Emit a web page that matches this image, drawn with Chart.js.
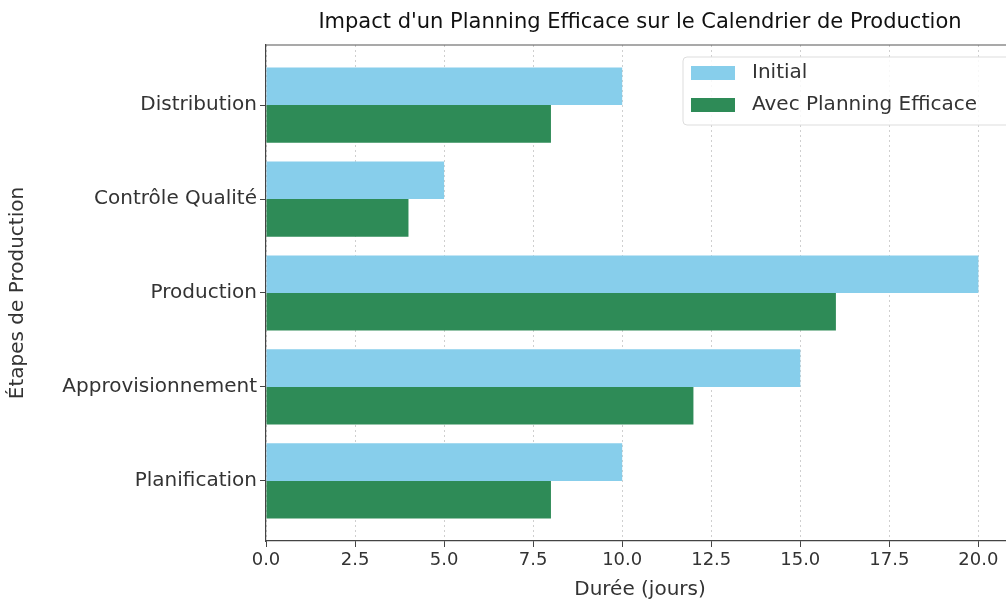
<!DOCTYPE html>
<html>
<head>
<meta charset="utf-8">
<script src="https://cdn.jsdelivr.net/npm/chart.js@4"></script>
<style>
  html, body { margin: 0; padding: 0; background: #fff; overflow: hidden; }
  #wrap { width: 1026px; height: 603px; position: relative; }
</style>
</head>
<body>
<div id="wrap"><canvas id="myChart"></canvas></div>
<script>
// bottom to top, as on the y axis
const etapes = ["Planification", "Approvisionnement", "Production", "Contrôle Qualité", "Distribution"];
const initial = [10, 15, 20, 5, 10];
const efficace = [8, 12, 16, 4, 8];
const xTicks = [0, 2.5, 5, 7.5, 10, 12.5, 15, 17.5, 20];
const titre = "Impact d'un Planning Efficace sur le Calendrier de Production";

const FONT = "'DejaVu Sans', sans-serif";
const ctx = document.getElementById("myChart");

function toPoints(values) {
  return values.map((v, i) => ({ x: v, y: i }));
}

// title centred on the plot, frame, and legend box inside the plot (top right)
const framePlugin = {
  id: "frame",
  afterDraw(chart) {
    const c = chart.ctx;
    const a = chart.chartArea;
    c.save();
    c.fillStyle = "#111";
    c.font = "21px " + FONT;
    c.textAlign = "center";
    c.textBaseline = "middle";
    c.fillText(titre, (a.left + a.right) / 2, 23);

    c.strokeStyle = "#555";
    c.lineWidth = 1.2;
    c.beginPath();
    c.moveTo(a.left, a.top);
    c.lineTo(a.right, a.top);
    c.lineTo(a.right, a.bottom);
    c.stroke();

    // legend
    const x0 = 683, y0 = 57, w = 330, h = 68;
    c.fillStyle = "rgba(255,255,255,0.85)";
    c.strokeStyle = "#ddd";
    c.lineWidth = 1;
    c.beginPath();
    c.roundRect(x0, y0, w, h, 4);
    c.fill();
    c.stroke();
    c.font = "20px " + FONT;
    c.textAlign = "left";
    chart.data.datasets.forEach((ds, i) => {
      const y = y0 + 16 + i * 32;
      c.fillStyle = ds.backgroundColor;
      c.fillRect(x0 + 8, y - 7, 44, 14);
      c.fillStyle = "#333";
      c.fillText(ds.label, x0 + 69, y);
    });
    c.restore();
  },
};

new Chart(ctx, {
  type: "bar",
  data: {
    datasets: [
      {
        label: "Initial",
        data: toPoints(initial),
        backgroundColor: "#87CEEB",
      },
      {
        label: "Avec Planning Efficace",
        data: toPoints(efficace),
        backgroundColor: "#2E8B57",
      },
    ],
  },
  options: {
    indexAxis: "y",
    responsive: true,
    maintainAspectRatio: false,
    animation: false,
    layout: { padding: { left: 0, right: 12, top: 45, bottom: 0 } },
    datasets: { bar: { categoryPercentage: 0.8, barPercentage: 1.0 } },
    scales: {
      x: {
        type: "linear",
        min: 0,
        max: 21,
        afterBuildTicks: (scale) => {
          scale.ticks = xTicks.map((v) => ({ value: v }));
        },
        afterFit: (scale) => {
          scale.height = 62;
        },
        ticks: {
          color: "#333",
          font: { family: FONT, size: 18 },
          padding: 3,
          callback: (v) => Number(v).toFixed(1),
        },
        grid: {
          color: "#cfcfcf",
          tickBorderDash: [],
          tickColor: "#444",
          tickLength: 6,
        },
        border: { color: "#444", width: 1.2, dash: [2, 3] },
        title: {
          display: true,
          text: "Durée (jours)",
          color: "#333",
          font: { family: FONT, size: 20 },
          padding: { top: 4, bottom: 1 },
        },
      },
      y: {
        type: "linear",
        min: -0.64,
        max: 4.64,
        offset: false,
        afterBuildTicks: (scale) => {
          scale.ticks = etapes.map((_, i) => ({ value: i }));
        },
        afterFit: (scale) => {
          scale.width = 266;
        },
        ticks: {
          color: "#333",
          font: { family: FONT, size: 20 },
          padding: 3,
          callback: (v) => etapes[v],
        },
        grid: {
          offset: false,
          drawOnChartArea: false,
          tickColor: "#444",
          tickLength: 6,
        },
        border: { color: "#444", width: 1.2 },
        title: {
          display: true,
          text: "Étapes de Production",
          color: "#333",
          font: { family: FONT, size: 20 },
          padding: { top: 6, bottom: 4 },
        },
      },
    },
    plugins: {
      legend: { display: false },
      tooltip: { enabled: false },
      title: { display: false },
    },
  },
  plugins: [framePlugin],
});
</script>
</body>
</html>
